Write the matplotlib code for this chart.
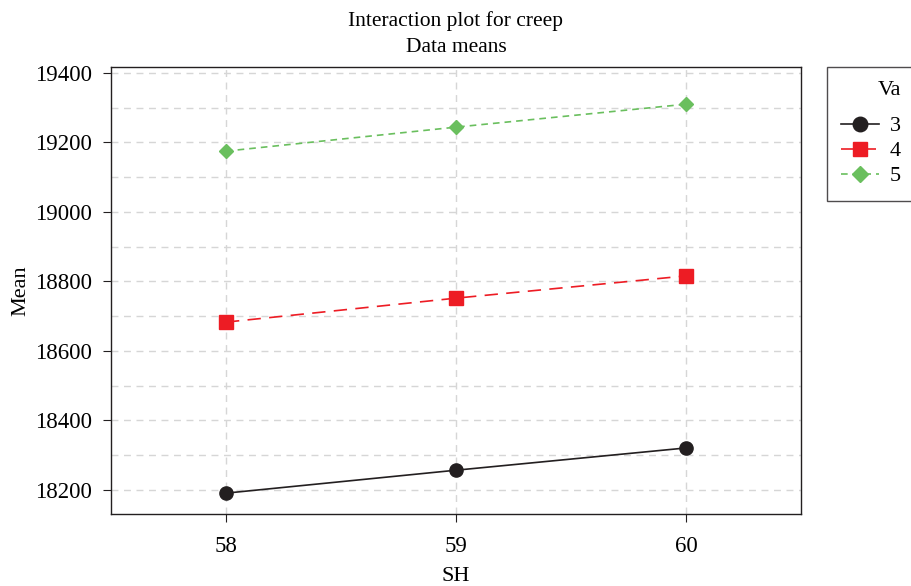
import numpy as np
import matplotlib.pyplot as plt
from matplotlib.ticker import MultipleLocator

plt.rcParams["font.family"] = ["Liberation Serif", "DejaVu Serif"]

sh_levels = [58, 59, 60]
va_levels = ["3", "4", "5"]
mean_va3 = [18191, 18257, 18321]
mean_va4 = [18683, 18752, 18816]
mean_va5 = [19175, 19244, 19310]

# colour, marker, dash pattern, marker size
styles = [
    ("#231f20", "o", "-", 9.5),
    ("#ed1c24", "s", (0, (8, 5)), 9.5),
    ("#6abf5e", "D", (0, (4, 3)), 7.5),
]

fig = plt.figure(figsize=(9.12, 5.86), dpi=100)
ax = fig.add_axes([111 / 912, 1 - 514 / 586, 690 / 912, 447 / 586])

for label, vals, (col, mk, ls, ms) in zip(va_levels, [mean_va3, mean_va4, mean_va5], styles):
    ax.plot(sh_levels, vals, color=col, marker=mk, markersize=ms,
            linewidth=1.2, linestyle=ls, label=label)

ax.set_xlim(57.5, 60.5)
ax.set_ylim(18131, 19417)
ax.set_xticks(sh_levels)
ax.yaxis.set_major_locator(MultipleLocator(200))
ax.yaxis.set_minor_locator(MultipleLocator(100))
ax.tick_params(axis="both", which="major", labelsize=16.5, length=6,
               direction="out", color="#231f20")
ax.tick_params(axis="x", pad=10)
ax.tick_params(axis="y", pad=8)
ax.tick_params(axis="y", which="minor", length=0)
ax.grid(True, which="both", axis="y", color="#d6d6d6", linestyle=(0, (5, 4)), linewidth=1)
ax.grid(True, which="major", axis="x", color="#d6d6d6", linestyle=(0, (5, 4)), linewidth=1)
ax.set_axisbelow(True)
for sp in ax.spines.values():
    sp.set_linewidth(1.0)
    sp.set_color("#231f20")

ax.set_xlabel("SH", fontsize=16, labelpad=7)
ax.set_ylabel("Mean", fontsize=16, labelpad=3)
ax.set_title("Interaction plot for creep\nData means", fontsize=15.5, pad=11,
             linespacing=1.5)

leg = ax.legend(title="Va", loc="upper left", bbox_to_anchor=(1.037, 1.0),
                fontsize=16, title_fontsize=16, frameon=True, fancybox=False,
                edgecolor="#231f20", handlelength=1.7, handletextpad=0.5,
                borderpad=0.65, labelspacing=0.2, alignment="right",
                borderaxespad=0, markerscale=1.1)
leg.get_frame().set_linewidth(1.0)
# extra gap between the legend title and its entries
leg._legend_box.sep = 11

fig.savefig("out.png", dpi=100)
